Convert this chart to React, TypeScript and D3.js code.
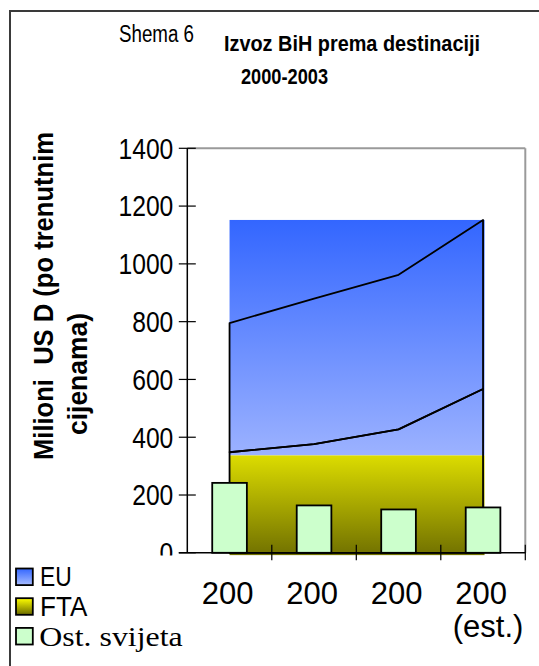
import React from 'react';
import * as d3 from 'd3';

// ---- data ----
const years = ['2000', '2001', '2002', '2003'];
const categoryLines = [['200'], ['200'], ['200'], ['200', '(est.)']];
const ftaValues = [348, 376, 427, 567];
const euValues = [447, 504, 535, 585];
const ostValues = [242, 164, 150, 157];
const yTicks = [0, 200, 400, 600, 800, 1000, 1200, 1400];
const fillSplitValue = 337; // boundary of the two gradient fills
const ftaFillBottomValue = -8;
const legendItems = [
  { name: 'EU', fill: 'url(#euLeg)', serif: false, len: 31.7 },
  { name: 'FTA', fill: 'url(#ftaLeg)', serif: false, len: 47.3 },
  { name: 'Ost. svijeta', fill: '#CCFFCC', serif: true, len: 143.4 },
];

const W = 539;
const H = 666;
const NARROW = "'Liberation Sans Narrow', 'Arial Narrow', 'Liberation Sans', Arial, sans-serif";
const SANS = "'Liberation Sans', Arial, sans-serif";
const SERIF = "'Liberation Serif', 'Times New Roman', serif";

export default function App() {
  const x0 = 187.3, x1 = 525.3;
  const x = d3.scalePoint<string>().domain(years).range([x0, x1]).padding(0.5);
  const step = x.step();
  const y = d3.scaleLinear().domain([0, 1400]).range([552.8, 148.3]);

  const stacked = years.map((yr, i) => ({
    yr,
    fta: ftaValues[i],
    total: ftaValues[i] + euValues[i],
  }));

  const euArea = d3
    .area<any>()
    .x((d) => x(d.yr) as number)
    .y0((d) => y(d.fta))
    .y1((d) => y(d.total));
  const ftaArea = d3
    .area<any>()
    .x((d) => x(d.yr) as number)
    .y0(() => y(0))
    .y1((d) => y(d.fta));

  const maxTotal = d3.max(stacked, (d) => d.total) as number;
  const fillX0 = x(years[0]) as number;
  const fillX1 = (x(years[years.length - 1]) as number) + 1.5;
  const barW = step * 0.41;

  return (
    <svg
      width={W}
      height={H}
      style={{ position: 'fixed', left: 0, top: 0, background: '#fff' }}
    >
      <defs>
        <linearGradient id="euGrad" x1="0" y1="0" x2="0" y2="1">
          <stop offset="0%" stopColor="#3366FF" />
          <stop offset="100%" stopColor="#9CB2FF" />
        </linearGradient>
        <linearGradient id="ftaGrad" x1="0" y1="0" x2="0" y2="1">
          <stop offset="0%" stopColor="#DCDC00" />
          <stop offset="100%" stopColor="#717100" />
        </linearGradient>
        <linearGradient id="euLeg" x1="0" y1="0" x2="0" y2="1">
          <stop offset="0%" stopColor="#3366FF" />
          <stop offset="100%" stopColor="#A8BDFF" />
        </linearGradient>
        <linearGradient id="ftaLeg" x1="0" y1="0" x2="0" y2="1">
          <stop offset="0%" stopColor="#FFFF00" />
          <stop offset="100%" stopColor="#6A6A00" />
        </linearGradient>
      </defs>

      {/* gradient fills */}
      <rect
        x={fillX0}
        y={y(maxTotal)}
        width={fillX1 - fillX0}
        height={y(fillSplitValue) - y(maxTotal)}
        fill="url(#euGrad)"
      />
      <rect
        x={fillX0}
        y={y(fillSplitValue)}
        width={fillX1 - fillX0}
        height={y(ftaFillBottomValue) - y(fillSplitValue)}
        fill="url(#ftaGrad)"
      />

      {/* area outlines */}
      <path d={euArea(stacked) as string} fill="none" stroke="#000" strokeWidth={1.8} strokeLinejoin="round" />
      <path d={ftaArea(stacked) as string} fill="none" stroke="#000" strokeWidth={1.8} strokeLinejoin="round" />

      {/* bars */}
      {ostValues.map((v, i) => (
        <rect
          key={i}
          x={(x(years[i]) as number) - barW / 2}
          y={y(v)}
          width={barW}
          height={y(0) - y(v)}
          fill="#CCFFCC"
          stroke="#000"
          strokeWidth={1.8}
        />
      ))}

      {/* plot frame (top/right) */}
      <line x1={x0} x2={x1} y1={y(1400)} y2={y(1400)} stroke="#9a9a9a" strokeWidth={2} />
      <line x1={x1} x2={x1} y1={y(1400)} y2={y(0)} stroke="#9a9a9a" strokeWidth={2} />

      {/* y axis */}
      <line x1={x0} x2={x0} y1={y(1400)} y2={y(0)} stroke="#000" strokeWidth={1.5} />
      {yTicks.map((t) => (
        <g key={t}>
          <line x1={x0 - 8.5} x2={x0 + 8.5} y1={y(t)} y2={y(t)} stroke="#000" strokeWidth={1.2} />
          <text
            x={173.3}
            y={y(t) + 10.3}
            textAnchor="end"
            fontFamily={NARROW}
            fontSize={29}
            textLength={String(t).length * 13.7}
            lengthAdjust="spacingAndGlyphs"
            fill="#000"
          >
            {t}
          </text>
        </g>
      ))}

      {/* x axis */}
      <line x1={x0 - 8.5} x2={x1} y1={y(0)} y2={y(0)} stroke="#000" strokeWidth={1.5} />
      {years.map((yr, i) => {
        const bx = (x(yr) as number) + step / 2;
        return (
          <line key={i} x1={bx} x2={bx} y1={y(0) - 8} y2={y(0) + 7.5} stroke="#000" strokeWidth={1.2} />
        );
      })}
      {categoryLines.map((lines, i) =>
        lines.map((ln, j) => (
          <text
            key={`${i}-${j}`}
            x={(x(years[i]) as number) - 2 + (j === 1 ? 7 : 0)}
            y={604 + j * 32.7}
            textAnchor="middle"
            fontFamily={SANS}
            fontSize={31}
            fill="#000"
          >
            {ln}
          </text>
        ))
      )}

      {/* y axis title */}
      <text
        transform="translate(53.3,460) rotate(-90)"
        fontFamily={SANS}
        fontWeight="bold"
        fontSize={28}
        textLength={328}
        lengthAdjust="spacingAndGlyphs"
        fill="#000"
        style={{ whiteSpace: 'pre' }}
      >
        {'Milioni  US D (po trenutnim'}
      </text>
      <text
        transform="translate(86.5,435) rotate(-90)"
        fontFamily={SANS}
        fontWeight="bold"
        fontSize={28}
        textLength={122}
        lengthAdjust="spacingAndGlyphs"
        fill="#000"
      >
        cijenama)
      </text>

      {/* titles */}
      <text x={119} y={42.3} fontFamily={NARROW} fontSize={23} textLength={75} lengthAdjust="spacingAndGlyphs" fill="#000">
        Shema 6
      </text>
      <text x={224} y={50.7} fontFamily={NARROW} fontWeight="bold" fontSize={22} textLength={256} lengthAdjust="spacingAndGlyphs" fill="#000">
        Izvoz BiH prema destinaciji
      </text>
      <text x={241} y={84} fontFamily={NARROW} fontWeight="bold" fontSize={22.5} textLength={87} lengthAdjust="spacingAndGlyphs" fill="#000">
        2000-2003
      </text>

      {/* legend box (white, covers the bottom of the 0 label) */}
      <rect x={12} y={555.5} width={176} height={111} fill="#fff" />
      {legendItems.map((it, i) => {
        const top = 568.5 + i * 29.7;
        return (
          <g key={it.name}>
            <rect x={16} y={top} width={16.8} height={16.6} fill={it.fill} stroke="#000" strokeWidth={1.8} />
            <text
              x={it.serif ? 39.3 : 40}
              y={top + 17.8}
              fontFamily={it.serif ? SERIF : SANS}
              fontSize={it.serif ? 28 : 27}
              textLength={it.len}
              lengthAdjust="spacingAndGlyphs"
              fill="#000"
            >
              {it.name}
            </text>
          </g>
        );
      })}

      {/* outer frame */}
      <rect x={10} y={11} width={W + 20} height={H + 20} fill="none" stroke="#3a3a3a" strokeWidth={2} />
    </svg>
  );
}
